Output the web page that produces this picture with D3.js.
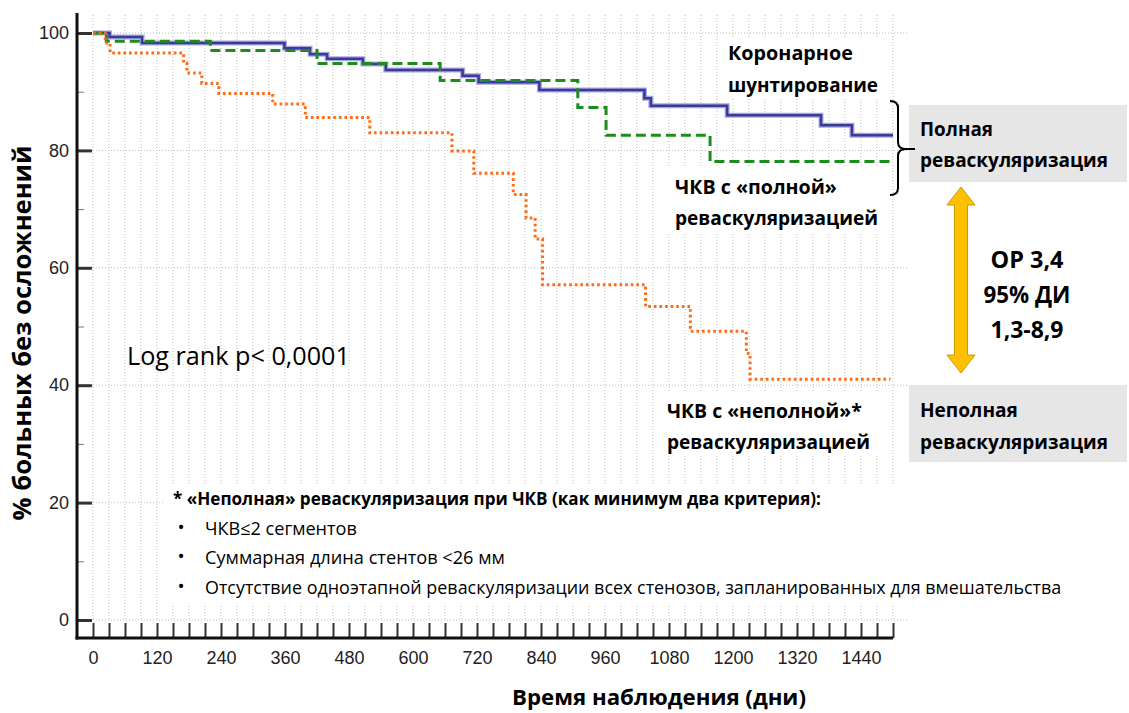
<!DOCTYPE html>
<meta charset="utf-8">
<style>
body { margin: 0; background: #fff; }
svg text { font-family: "Open Sans", sans-serif; fill: #000; }
.axis text { font-family: "Liberation Sans", Arial, sans-serif; font-size: 18px; fill: #222; }
.axis .domain { display: none; }
.grid { stroke: #bdbdbd; stroke-width: 1; stroke-dasharray: 1,2; }
.bold { font-weight: 700; }
</style>
<svg width="1129" height="713"></svg>
<script src="https://d3js.org/d3.v7.min.js"></script>
<script>

// Kaplan-Meier steps: day of the event and survival (%) after it
var cabgDays = [0, 31, 92, 359, 407, 439, 506, 549, 693, 723, 837, 1034, 1046, 1189, 1365, 1423, 1500];
var cabgSurv = [100, 99.3, 98.3, 97.4, 96.4, 95.6, 94.7, 93.7, 92.7, 91.6, 90.3, 88.9, 87.6, 86.0, 84.3, 82.6, 82.6];

var fullPciDays = [0, 25, 220, 420, 651, 909, 962, 1157, 1500];
var fullPciSurv = [100, 98.6, 97.0, 94.8, 91.9, 87.3, 82.6, 78.1, 78.1];

var partPciDays = [0, 23, 32, 170, 176, 204, 236, 337, 398, 519, 673, 714, 788, 812, 829, 843, 1036, 1120, 1225, 1232, 1495];
var partPciSurv = [100, 98.3, 96.6, 94.9, 93.2, 91.4, 89.7, 87.9, 85.6, 83.0, 79.9, 76.1, 72.5, 68.5, 64.9, 57.1, 53.4, 49.2, 45.4, 41.0, 41.0];

var xTicks = d3.range(0, 1501, 30);
var xLabels = d3.range(0, 1441, 120);
var yMajor = [0, 20, 40, 60, 80, 100];
var yMinor = [10, 30, 50, 70, 90];

var footnote = [
  "ЧКВ≤2 сегментов",
  "Суммарная длина стентов <26 мм",
  "Отсутствие одноэтапной реваскуляризации всех стенозов, запланированных для вмешательства"
];

var svg = d3.select("svg");

var x = d3.scaleLinear().domain([0, 1500]).range([93, 893]);
var y = d3.scaleLinear().domain([0, 100]).range([620, 33]);

// grid
svg.append("g").selectAll("line")
    .data(xTicks)
  .enter().append("line")
    .attr("class", "grid")
    .attr("x1", x).attr("x2", x)
    .attr("y1", 15).attr("y2", y(0));

svg.append("g").selectAll("line")
    .data(yMajor)
  .enter().append("line")
    .attr("class", "grid")
    .attr("x1", x(0)).attr("x2", 908)
    .attr("y1", y).attr("y2", y);

// white patches under the texts
[[722, 37, 160, 62], [668, 168, 215, 64], [660, 392, 225, 64], [163, 484, 912, 120]].forEach(function(r) {
  svg.append("rect").attr("x", r[0]).attr("y", r[1]).attr("width", r[2]).attr("height", r[3]).attr("fill", "#fff");
});

// axes
var xAxis = d3.axisBottom(x)
    .tickValues(xTicks)
    .tickSizeInner(-15)
    .tickSizeOuter(0)
    .tickPadding(10)
    .tickFormat(function(d) { return xLabels.indexOf(d) >= 0 ? d : ""; });

var gx = svg.append("g").attr("class", "axis").attr("transform", "translate(0,638)").call(xAxis);
gx.selectAll(".tick line").attr("stroke", "#333").attr("stroke-width", 2);
gx.selectAll(".tick text").attr("dy", "0.9em");

var gyMinor = svg.append("g").attr("class", "axis").attr("transform", "translate(77,0)")
    .call(d3.axisLeft(y).tickValues(yMinor).tickSizeInner(-7).tickSizeOuter(0).tickFormat(""));
gyMinor.selectAll(".tick line").attr("stroke", "#777").attr("stroke-width", 1);

var gy = svg.append("g").attr("class", "axis").attr("transform", "translate(77,0)")
    .call(d3.axisLeft(y).tickValues(yMajor).tickSizeInner(-15).tickSizeOuter(0).tickPadding(8));
gy.selectAll(".tick line").attr("stroke", "#333").attr("stroke-width", 3);

svg.append("line").attr("x1", 77).attr("x2", 77).attr("y1", 13).attr("y2", 639.5)
    .attr("stroke", "#111").attr("stroke-width", 3);
svg.append("line").attr("x1", 75.5).attr("x2", 893).attr("y1", 638).attr("y2", 638)
    .attr("stroke", "#111").attr("stroke-width", 3);

// curves
var line = d3.line()
    .x(function(d) { return x(d[0]); })
    .y(function(d) { return y(d[1]); })
    .curve(d3.curveStepAfter);

function pairs(days, surv) { return days.map(function(d, i) { return [d, surv[i]]; }); }

svg.append("path").datum(pairs(cabgDays, cabgSurv))
    .attr("d", line).attr("fill", "none")
    .attr("stroke", "#a8a8dc").attr("stroke-width", 5);
svg.append("path").datum(pairs(cabgDays, cabgSurv))
    .attr("d", line).attr("fill", "none")
    .attr("stroke", "#3a3a9c").attr("stroke-width", 2.5);

svg.append("path").datum(pairs(fullPciDays, fullPciSurv))
    .attr("d", line).attr("fill", "none")
    .attr("stroke", "#1d8c1d").attr("stroke-width", 3)
    .attr("stroke-dasharray", "10,5");

svg.append("path").datum(pairs(partPciDays, partPciSurv))
    .attr("d", line).attr("fill", "none")
    .attr("stroke", "#ff6a13").attr("stroke-width", 3)
    .attr("stroke-dasharray", "2.6,3");

// grey boxes
svg.append("rect").attr("x", 909).attr("y", 105).attr("width", 218).attr("height", 77).attr("fill", "#e6e6e6");
svg.append("rect").attr("x", 909).attr("y", 385).attr("width", 218).attr("height", 77).attr("fill", "#e6e6e6");

// bracket
svg.append("path")
    .attr("d", "M890,101 Q898,101 898,108 L898,142 Q898,149 906,149 L915,149 M906,149 Q898,149 898,156 L898,188 Q898,195 890,195")
    .attr("fill", "none").attr("stroke", "#000").attr("stroke-width", 2);

// double arrow
var ax = 961, ay0 = 187, ay1 = 373, hw = 14, hh = 18, sw = 6.5;
svg.append("path")
    .attr("d", "M" + ax + "," + ay0 + " L" + (ax + hw) + "," + (ay0 + hh) + " L" + (ax + sw) + "," + (ay0 + hh) +
      " L" + (ax + sw) + "," + (ay1 - hh) + " L" + (ax + hw) + "," + (ay1 - hh) + " L" + ax + "," + ay1 +
      " L" + (ax - hw) + "," + (ay1 - hh) + " L" + (ax - sw) + "," + (ay1 - hh) + " L" + (ax - sw) + "," + (ay0 + hh) +
      " L" + (ax - hw) + "," + (ay0 + hh) + "Z")
    .attr("fill", "#ffc000").attr("stroke", "#c99a00").attr("stroke-width", 1);

// texts: [text, x, y, target width, bold, anchor]
var labels = [
  ["Коронарное", 728, 60, 125, true],
  ["шунтирование", 728, 92, 150, true],
  ["ЧКВ с «полной»", 675, 194, 162, true],
  ["реваскуляризацией", 675, 225, 203, true],
  ["ЧКВ с «неполной»*", 667, 418, 195, true],
  ["реваскуляризацией", 667, 449, 203, true],
  ["Log rank p< 0,0001", 127, 365, 223, false],
  ["Полная", 920, 136, 73, true],
  ["реваскуляризация", 920, 167, 188, true],
  ["Неполная", 920, 417, 98, true],
  ["реваскуляризация", 920, 449, 188, true],
  ["ОР 3,4", 1027, 268, 73, true, "middle"],
  ["95% ДИ", 1027, 303, 87, true, "middle"],
  ["1,3-8,9", 1027, 338, 73, true, "middle"],
  ["* «Неполная» реваскуляризация при ЧКВ (как минимум два критерия):", 173, 505, 648, true],
  [footnote[0], 205, 535, 152, false],
  [footnote[1], 205, 564, 300, false],
  [footnote[2], 205, 594, 857, false],
  ["Время наблюдения (дни)", 659, 705, 294, true, "middle"]
];

svg.append("g").selectAll("text")
    .data(labels)
  .enter().append("text")
    .attr("x", function(d) { return d[1]; })
    .attr("y", function(d) { return d[2]; })
    .attr("class", function(d) { return d[4] ? "bold" : null; })
    .attr("text-anchor", function(d) { return d[5] || "start"; })
    .style("font-size", "20px")
    .text(function(d) { return d[0]; })
    .each(fit);

svg.append("g").selectAll("text")
    .data([535, 564, 594])
  .enter().append("text")
    .attr("x", 181).attr("y", function(d) { return d - 1; })
    .attr("text-anchor", "middle")
    .style("font-size", "19px")
    .text("•");

svg.append("text")
    .datum(["% больных без осложнений", 0, 0, 375])
    .attr("class", "bold")
    .attr("transform", "translate(31,333) rotate(-90)")
    .attr("text-anchor", "middle")
    .style("font-size", "20px")
    .text(function(d) { return d[0]; })
    .each(fit);

function fit(d) {
  var len = this.getComputedTextLength();
  var fs = parseFloat(d3.select(this).style("font-size"));
  d3.select(this).style("font-size", (fs * d[3] / len) + "px");
}

</script>
